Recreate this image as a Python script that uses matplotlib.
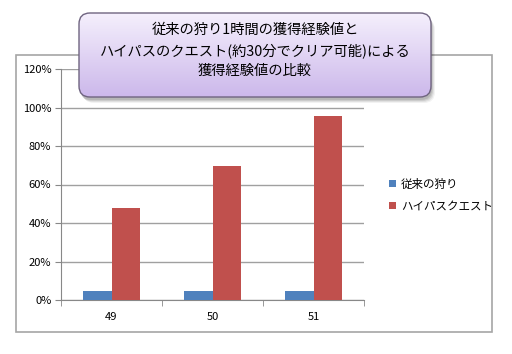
import matplotlib
matplotlib.use('Agg')
import matplotlib.pyplot as plt
import numpy as np
from matplotlib.patches import Rectangle, FancyBboxPatch

plt.rcParams['font.family'] = ['Noto Sans CJK JP', 'DejaVu Sans']

categories = ['49', '50', '51']
series_names = ['従来の狩り', 'ハイパスクエスト']
normal_hunt = [4.7, 4.7, 4.7]
hipass_quest = [48, 69.5, 95.5]
y_ticks = [0, 20, 40, 60, 80, 100, 120]
title_lines = ['従来の狩り1時間の獲得経験値と',
               'ハイパスのクエスト(約30分でクリア可能)による',
               '獲得経験値の比較']

W, H = 512, 354
fig = plt.figure(figsize=(W / 100, H / 100), dpi=100)
fig.patch.set_facecolor('white')

def px(x0, y0, x1, y1):
    # pixel box (top-left origin) -> figure fraction rect
    return [x0 / W, 1 - y1 / H, (x1 - x0) / W, (y1 - y0) / H]

ax = fig.add_axes(px(61, 69, 364, 300))
x = np.arange(len(categories))
w = 0.28
ax.bar(x - w / 2, normal_hunt, w, color='#4F81BD', label=series_names[0], zorder=3)
ax.bar(x + w / 2, hipass_quest, w, color='#C0504D', label=series_names[1], zorder=3)
ax.set_xlim(-0.5, 2.5)
ax.set_ylim(0, 120)
ax.set_yticks(y_ticks)
ax.set_yticklabels([f'{v}%' for v in y_ticks], fontsize=8)
ax.set_xticks(x)
ax.set_xticklabels(categories, fontsize=8)
ax.tick_params(axis='x', which='major', length=0, pad=9)
ax.set_xticks([-0.5, 0.5, 1.5, 2.5], minor=True)
ax.tick_params(axis='x', which='minor', length=4, color='#888888')
ax.tick_params(axis='y', length=4, color='#888888', pad=3)
ax.grid(axis='y', color='#a0a0a0', lw=1, zorder=0)
for s in ['top', 'right']:
    ax.spines[s].set_visible(False)
for s in ['left', 'bottom']:
    ax.spines[s].set_color('#888888')

ax.legend(loc='upper left', bbox_to_anchor=(384 / W, 1 - 173 / H),
          bbox_transform=fig.transFigure, frameon=False, fontsize=8.3,
          handlelength=0.6, handleheight=0.6, handletextpad=0.45,
          labelspacing=0.75, borderaxespad=0)

# overlay in pixel coordinates: outer border + title box
ov = fig.add_axes([0, 0, 1, 1], zorder=5)
ov.set_xlim(0, W)
ov.set_ylim(H, 0)
ov.set_axis_off()
ov.patch.set_alpha(0)

ov.add_patch(Rectangle((16, 55), 476, 277, fill=False, edgecolor='#a6a6a6', lw=1.2))

bx0, by0, bx1, by1 = 79, 13, 431, 97
for off, a in [(5, 0.05), (4, 0.07), (3, 0.09), (2, 0.10)]:
    ov.add_patch(FancyBboxPatch((bx0 + off - 1, by0 + off + 1), bx1 - bx0, by1 - by0,
                 boxstyle='round,pad=0,rounding_size=11', facecolor='black',
                 edgecolor='none', alpha=a))
box = FancyBboxPatch((bx0, by0), bx1 - bx0, by1 - by0,
                     boxstyle='round,pad=0,rounding_size=11', facecolor='none',
                     edgecolor='#6f6480', lw=1, zorder=4)
ov.add_patch(box)
grad = np.linspace(0, 1, 100).reshape(-1, 1)
top_c = np.array([0.96, 0.94, 0.99])
bot_c = np.array([0.80, 0.72, 0.92])
img = top_c + (bot_c - top_c) * grad[:, :, None]
im = ov.imshow(img, extent=[bx0, bx1, by1, by0], aspect='auto', zorder=3)
im.set_clip_path(box)
ov.set_xlim(0, W)
ov.set_ylim(H, 0)
for i, line in enumerate(title_lines):
    ov.text((bx0 + bx1) / 2, 30 + i * 20.5, line, ha='center', va='center',
            fontsize=10.3, color='black', zorder=6)

fig.savefig('out.png', dpi=100)
